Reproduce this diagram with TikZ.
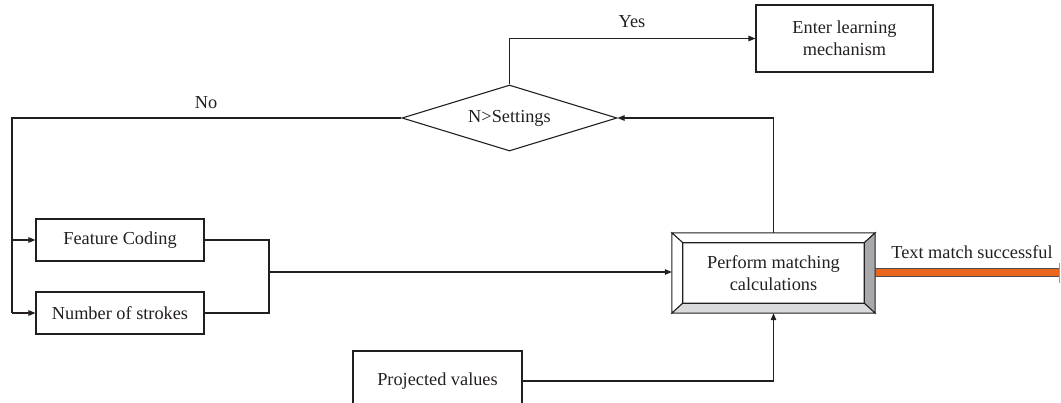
\documentclass[tikz,border=0pt]{standalone}
\usepackage{fontspec}
\setmainfont{Liberation Serif}
\usetikzlibrary{shapes.geometric,arrows.meta,calc}
\definecolor{ln}{HTML}{231F20}
\definecolor{org}{HTML}{E8661E}
\definecolor{bevd}{HTML}{A7A9AC}
\definecolor{bevl}{HTML}{D9DADB}
\newcommand{\fs}{\fontsize{18.3}{22}\selectfont}
\tikzset{
  box/.style={draw=ln, rectangle, minimum width=168, minimum height=42, inner sep=0, font=\fs, align=center, text=ln},
  arr/.style={-{Triangle[length=7pt,width=5.5pt]}},
  wire/.style={draw=ln, line width=1.1pt},
  lbl/.style={font=\fs, text=ln, inner sep=0},
  bevel/.style={draw=ln, line width=1pt}
}
\begin{document}
\begin{tikzpicture}[x=1pt,y=-1pt]
\useasboundingbox (0,0) rectangle (1061,402);

% nodes
\node[box, line width=1.1pt, minimum width=177, minimum height=67] (learn) at (844.5,38.5) {Enter learning\\mechanism};
\node[draw=ln, line width=1.1pt, diamond, aspect=3.26, minimum width=215, minimum height=66, inner sep=0, font=\fs, text=ln] (dec) at (509.5,118) {N>Settings};
\node[box, line width=1.1pt] (feat) at (120,240) {Feature Coding};
\node[box, line width=1.1pt] (num) at (120,313) {Number of strokes};
\node[box, line width=1.1pt, minimum width=169, minimum height=60] (proj) at (437.5,381) {Projected values};
\node[rectangle, minimum width=203, minimum height=80, inner sep=0] (perf) at (773.5,273) {};

% bevelled box
\coordinate (oa) at (perf.north west);
\coordinate (ob) at (perf.north east);
\coordinate (oc) at (perf.south east);
\coordinate (od) at (perf.south west);
\coordinate (ia) at ($(oa)+(11,10)$);
\coordinate (ib) at ($(ob)+(-11,10)$);
\coordinate (ic) at ($(oc)+(-11,-10)$);
\coordinate (id) at ($(od)+(11,-10)$);
\filldraw[bevel, fill=white] (oa) -- (ob) -- (ib) -- (ia) -- cycle;
\filldraw[bevel, fill=white] (oa) -- (ia) -- (id) -- (od) -- cycle;
\filldraw[bevel, fill=bevd] (ob) -- (oc) -- (ic) -- (ib) -- cycle;
\filldraw[bevel, fill=bevl] (od) -- (id) -- (ic) -- (oc) -- cycle;
\draw[bevel] (ia) rectangle (ic);
\node[lbl, align=center] at (perf.center) {Perform matching\\calculations};

% coordinates
\coordinate (yesc) at (dec.north |- learn.west);
\coordinate (noc) at (12,118);
\coordinate (mx) at (269,272);
\coordinate (mtop) at (269,240);
\coordinate (mbot) at (269,313);
\coordinate (upc) at (perf.north |- dec.east);
\coordinate (pc) at (perf.south |- proj.east);
\coordinate (endc) at (1059,272.5);

% connectors
\draw[wire, arr] (dec.north) -- (yesc) -- (learn.west);
\draw[wire] (dec.west) -- (noc) -- (noc |- num.west);
\draw[wire, arr] (noc |- feat.west) -- (feat.west);
\draw[wire, arr] (noc |- num.west) -- (num.west);
\draw[wire] (feat.east) -- (mtop) -- (mbot) -- (num.east);
\draw[wire, arr] (mx) -- (perf.west |- mx);
\draw[wire, arr] (perf.north) -- (upc) -- (dec.east);
\draw[wire, arr] (proj.east) -- (pc) -- (perf.south);
\draw[line width=9.5pt, draw=ln!80] (perf.east |- endc) -- (endc);
\draw[line width=7pt, draw=org] ($(perf.east |- endc)+(0.5,0)$) -- (endc);
\draw[line width=1.2pt, draw=ln!45] ($(endc)+(0.5,-10)$) -- ($(endc)+(0.5,10)$);

% labels
\node[lbl] at (632,22) {Yes};
\node[lbl] at (206,103) {No};
\node[lbl] at (972,252) {Text match successful};
\end{tikzpicture}
\end{document}
